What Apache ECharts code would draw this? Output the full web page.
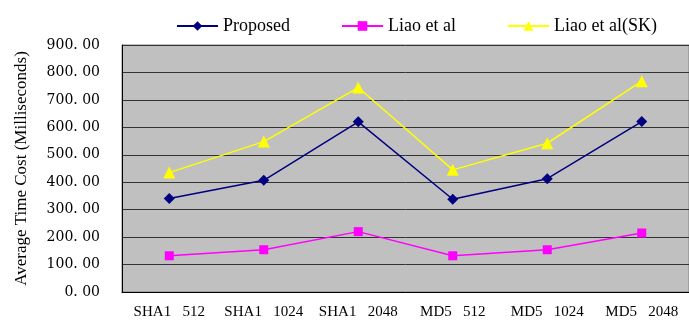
<!DOCTYPE html>
<html>
<head>
<meta charset="utf-8">
<script src="https://cdn.jsdelivr.net/npm/echarts@6/dist/echarts.min.js"></script>
<style>
    html, body { margin: 0; padding: 0; background: #fff; }
    #chart { width: 689px; height: 323px; }
</style>
</head>
<body>
<div id="chart"></div>
<script>
// 横轴类别 (算法 + 密钥长度)
const categories = ['SHA1   512', 'SHA1   1024', 'SHA1   2048', 'MD5   512', 'MD5   1024', 'MD5   2048'];

// 各方法耗时 (毫秒)
const proposed = [341, 407, 620, 338, 413, 621];
const liao = [132, 154, 220, 132, 154, 215];
const liaoSK = [435, 548, 745, 445, 542, 768];

const serif = 'Liberation Serif';
const digitFont = 'DejaVu Serif';

let chart = echarts.init(document.getElementById('chart'));

let option = {
    animation: false,
    backgroundColor: '#fff',
    legend: {
        left: 171,
        top: 12,
        itemWidth: 41,
        itemHeight: 12,
        itemGap: 51,
        textStyle: { fontFamily: serif, fontSize: 18, color: '#000' },
        data: ['Proposed', 'Liao et al', 'Liao et al(SK)']
    },
    grid: {
        left: 122,
        top: 45,
        right: -11,
        bottom: 31,
        show: true,
        backgroundColor: '#c0c0c0',
        borderColor: '#808080',
        borderWidth: 1
    },
    xAxis: {
        type: 'category',
        data: categories,
        boundaryGap: true,
        axisLine: { lineStyle: { color: '#000', width: 1 } },
        axisTick: { inside: true, length: 5, lineStyle: { color: '#000' } },
        axisLabel: {
            interval: 0,
            margin: 13,
            fontFamily: serif,
            fontSize: 15,
            color: '#000'
        }
    },
    yAxis: {
        type: 'value',
        min: 0,
        max: 900,
        interval: 100,
        name: 'Average Time Cost (Milliseconds)',
        nameLocation: 'middle',
        nameGap: 92,
        nameTextStyle: { fontFamily: serif, fontSize: 17, color: '#000' },
        axisLine: { show: true, lineStyle: { color: '#000', width: 1 } },
        axisTick: { show: false },
        splitLine: { lineStyle: { color: '#333', width: 1 } },
        axisLabel: {
            fontFamily: digitFont,
            fontSize: 14,
            color: '#000',
            margin: 22,
            formatter: function (v) {
                return v.toFixed(2).replace('.', '. ');
            }
        }
    },
    series: [
        {
            name: 'Proposed',
            type: 'line',
            data: proposed,
            symbol: 'diamond',
            symbolSize: 11,
            lineStyle: { color: '#000080', width: 1.5 },
            itemStyle: { color: '#000080' }
        },
        {
            name: 'Liao et al',
            type: 'line',
            data: liao,
            symbol: 'rect',
            symbolSize: 9,
            lineStyle: { color: '#ff00ff', width: 1.5 },
            itemStyle: { color: '#ff00ff' }
        },
        {
            name: 'Liao et al(SK)',
            type: 'line',
            data: liaoSK,
            symbol: 'triangle',
            symbolSize: 12,
            lineStyle: { color: '#ffff00', width: 1.5 },
            itemStyle: { color: '#ffff00' }
        }
    ]
};

chart.setOption(option);
</script>
</body>
</html>
